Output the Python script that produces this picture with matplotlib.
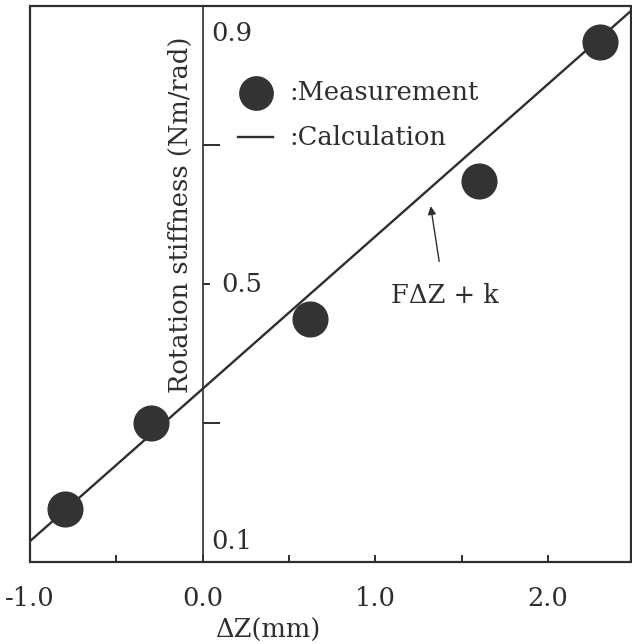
import matplotlib
matplotlib.use("Agg")
import matplotlib.pyplot as plt
from matplotlib.patches import Rectangle

# ---- data ----
meas_dz = [-0.80, -0.30, 0.62, 1.60, 2.30]
meas_k = [0.176, 0.300, 0.450, 0.648, 0.848]
calc_dz = [-1.00, 2.48]
calc_k = [0.130, 0.893]
xtick_vals = [-1.0, -0.5, 0.0, 0.5, 1.0, 1.5, 2.0]
xtick_labels = ["-1.0", "", "0.0", "", "1.0", "", "2.0"]
ytick_major = [0.3, 0.7]
ytick_minor = [0.5]
ylabels_shown = [0.9, 0.5, 0.1]

ink = "#2e2e2e"
fs = 18.5
plt.rcParams["font.family"] = ["DejaVu Serif"]

fig = plt.figure(figsize=(6.32, 6.44), dpi=100)
W, H = 632, 644
L, R, T, B = 30, 631, 6, 562
ax = fig.add_axes([L / W, 1 - B / H, (R - L) / W, (B - T) / H])
ax.set_xlim(-1.0, 2.48)
ax.set_ylim(0.1, 0.9)

# frame
for s in ["top", "bottom", "left"]:
    ax.spines[s].set_visible(False)
ax.add_patch(Rectangle((0, 0), 1, 1, transform=ax.transAxes, fill=False,
                       lw=1.6, ec=ink, clip_on=False, zorder=5))

# y axis drawn at x = 0 with ticks/labels to the right
ax.spines["right"].set_position(("data", 0))
ax.spines["right"].set_color(ink)
ax.spines["right"].set_linewidth(1.2)
ax.yaxis.tick_right()
ax.set_yticks(ytick_major)
ax.set_yticks(ytick_minor, minor=True)
ax.tick_params(axis="y", which="major", direction="out", length=12, width=1.4,
               color=ink, labelright=False)
ax.tick_params(axis="y", which="minor", direction="out", length=5, width=1.4,
               color=ink)

ax.set_xticks(xtick_vals)
ax.set_xticklabels(xtick_labels)
ax.tick_params(axis="x", direction="in", length=5, width=1.4, color=ink,
               pad=17, labelsize=fs, labelcolor=ink)

# y tick labels inside
ax.text(0.05, ylabels_shown[0] - 0.022, "0.9", ha="left", va="top", fontsize=fs, color=ink)
ax.text(0.105, ylabels_shown[1], "0.5", ha="left", va="center", fontsize=fs, color=ink)
ax.text(0.05, ylabels_shown[2] + 0.012, "0.1", ha="left", va="bottom", fontsize=fs, color=ink)

# data
ax.plot(calc_dz, calc_k, color=ink, lw=1.7, zorder=3)
ax.plot(meas_dz, meas_k, "o", ms=25, color="#333333", mec="#333333", zorder=4,
        clip_on=False)

# legend (hand-built as in the original)
ax.plot([0.31], [0.775], "o", ms=24, color="#333333")
ax.text(0.50, 0.775, ":Measurement", ha="left", va="center", fontsize=fs, color=ink)
ax.plot([0.205, 0.405], [0.711, 0.711], color=ink, lw=1.7)
ax.text(0.50, 0.711, ":Calculation", ha="left", va="center", fontsize=fs, color=ink)

# annotation
ax.annotate("F\u0394Z + k", xy=(1.32, 0.612), xytext=(1.40, 0.483),
            ha="center", va="center", fontsize=fs, color=ink,
            arrowprops=dict(arrowstyle="-|>", color=ink, lw=1.0,
                            mutation_scale=12, shrinkA=14, shrinkB=0))

# axis labels
fig.text(180 / W, 1 - 215 / H, "Rotation stiffness (Nm/rad)", rotation=90,
         ha="center", va="center", fontsize=fs, color=ink)
fig.text(268 / W, 1 - 630 / H, "\u0394Z(mm)", ha="center", va="center",
         fontsize=fs, color=ink)

fig.savefig("out.png", dpi=100, facecolor="white")
